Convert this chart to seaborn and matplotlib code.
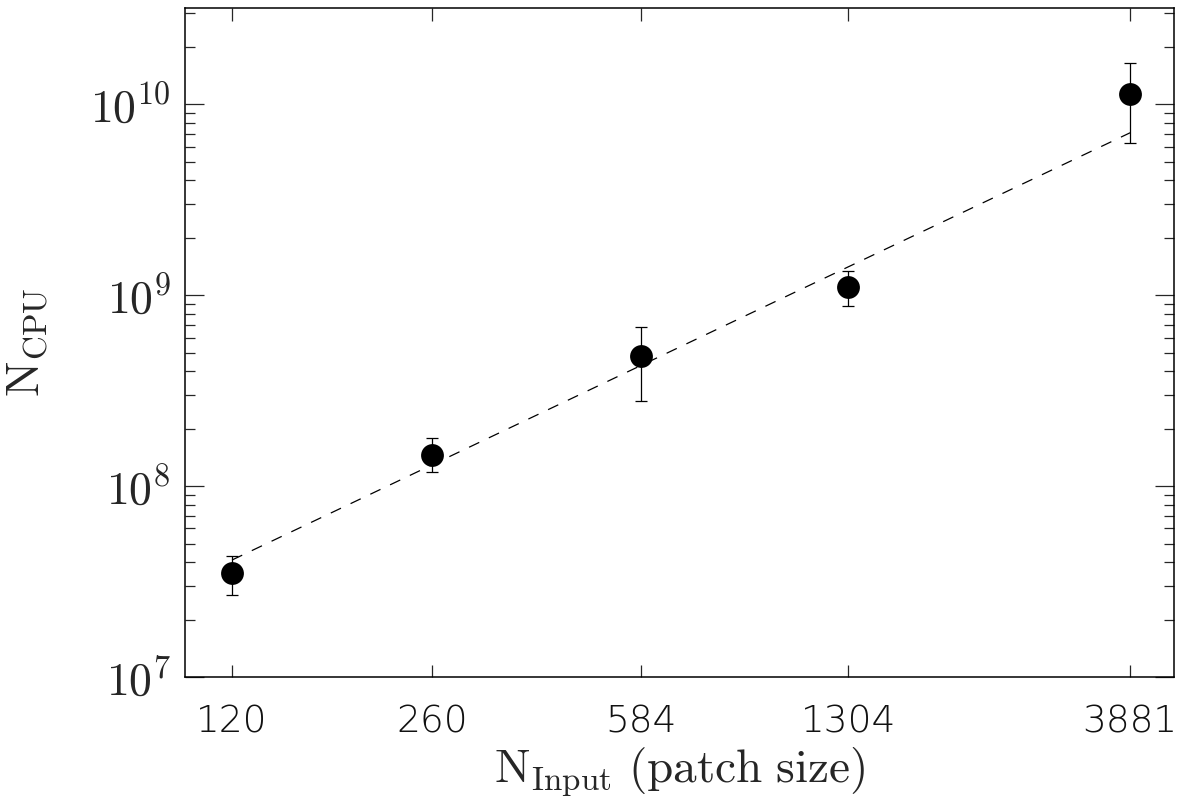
"""
N_CPU vs N_Input scaling plot (log-log, with error bars and power-law fit)
"""
import numpy as np
import pandas as pd
import seaborn as sns
import matplotlib

matplotlib.use('Agg')
import matplotlib.pyplot as plt
from matplotlib.ticker import FuncFormatter, LogLocator, NullLocator

# ==================== data ====================
n_input = [120, 260, 584, 1304, 3881]
n_cpu = [3.5e7, 1.45e8, 4.8e8, 1.10e9, 1.13e10]
err_hi = [4.3e7, 1.78e8, 6.8e8, 1.34e9, 1.64e10]
err_lo = [2.7e7, 1.18e8, 2.8e8, 8.75e8, 6.3e9]

fit_x = [120, 3881]
fit_y = [4.1e7, 7.1e9]

sns.set_theme(style='ticks')
plt.rcParams['mathtext.fontset'] = 'cm'
plt.rcParams['font.family'] = ['DejaVu Serif']

df = pd.DataFrame({'n_input': n_input, 'n_cpu': n_cpu,
                   'hi': err_hi, 'lo': err_lo})
fit_df = pd.DataFrame({'x': fit_x, 'y': fit_y})

fig = plt.figure(figsize=(11.78, 7.97), dpi=100)
ax = fig.add_axes([0.157, 0.1506, 0.8396, 0.8394])

# fit line
sns.lineplot(data=fit_df, x='x', y='y', color='black', linewidth=0.9,
             dashes=False, ax=ax)
ax.lines[-1].set_dashes([9, 8.5])

# error bars
yerr = np.vstack([df['n_cpu'] - df['lo'], df['hi'] - df['n_cpu']])
ax.errorbar(df['n_input'], df['n_cpu'], yerr=yerr, fmt='none',
            ecolor='black', elinewidth=0.9, capsize=4, capthick=0.9, zorder=3)

# points
sns.scatterplot(data=df, x='n_input', y='n_cpu', color='black', s=270,
                edgecolor='black', linewidth=0, zorder=4, ax=ax)

ax.set_xscale('log')
ax.set_yscale('log')
ax.set_xlim(100, 4600)
ax.set_ylim(1e7, 3.2e10)

ax.set_xticks(n_input, labels=[str(v) for v in n_input],
              fontfamily='DejaVu Sans', fontweight='ultralight',
              fontsize=27, color='#111111')
ax.xaxis.set_minor_locator(NullLocator())

ax.yaxis.set_major_locator(LogLocator(base=10, numticks=10))
ax.yaxis.set_minor_locator(LogLocator(base=10, subs=np.arange(2, 10), numticks=20))
ax.yaxis.set_major_formatter(FuncFormatter(lambda v, p: r"$10^{%d}$" % round(np.log10(v))))

ax.tick_params(axis='x', which='major', direction='in', length=9, width=0.9,
               top=True, pad=20)
ax.tick_params(axis='y', which='major', direction='in', length=14, width=0.9,
               right=True, pad=10, labelsize=33)
ax.tick_params(axis='y', which='minor', direction='in', length=7, width=0.9,
               right=True)

for sp in ax.spines.values():
    sp.set_linewidth(1.1)
    sp.set_color('black')

ax.set_xlabel(r"$\mathrm{N_{Input}\ (patch\ size)}$", fontsize=34, labelpad=4)
ax.set_ylabel(r"$\mathrm{N_{CPU}}$", fontsize=34, labelpad=30)

fig.savefig('out.png', dpi=100)
plt.close('all')
